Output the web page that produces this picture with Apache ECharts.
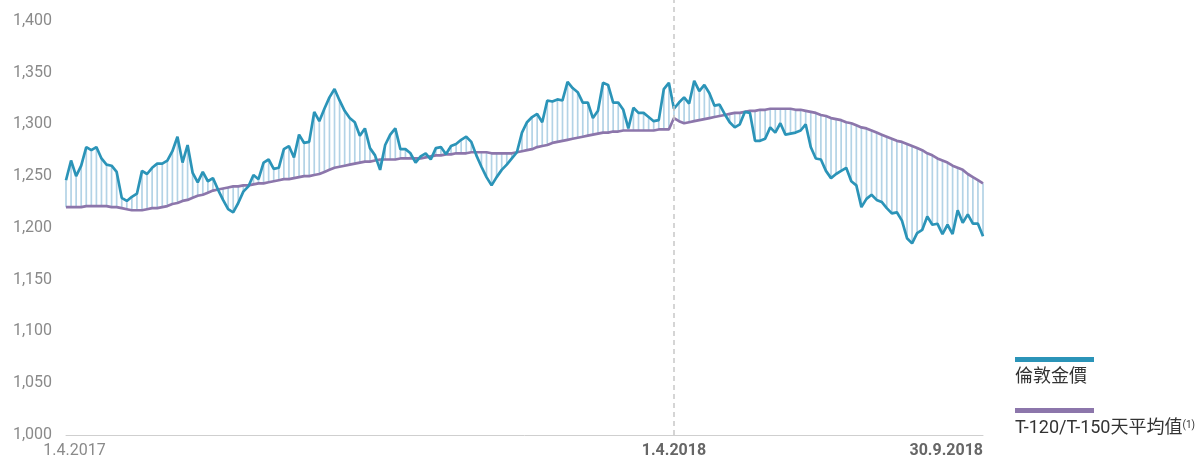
<!DOCTYPE html>
<html>
<head>
<meta charset="utf-8">
<script src="https://cdn.jsdelivr.net/npm/echarts@6/dist/echarts.min.js"></script>
<style>
  html, body { margin: 0; padding: 0; background: #fff; }
  #main { width: 1203px; height: 461px; }
</style>
</head>
<body>
<div id="main"></div>
<script>
var FONT = 'Roboto, "Noto Sans CJK TC", sans-serif';

// 倫敦金價 (one sample about every 3 days, 1.4.2017 - 30.9.2018)
var goldPrice = [
  1246, 1265, 1250, 1260, 1278, 1275, 1278, 1267, 1261, 1260,
  1254, 1229, 1226, 1230, 1233, 1255, 1252, 1258, 1262, 1262,
  1265, 1274, 1288, 1263, 1280, 1253, 1244, 1254, 1245, 1248,
  1237, 1227, 1218, 1215, 1224, 1235, 1240, 1251, 1247, 1263,
  1266, 1257, 1258, 1276, 1279, 1268, 1290, 1282, 1283, 1312,
  1303, 1315, 1326, 1334, 1323, 1313, 1306, 1302, 1289, 1296,
  1277, 1270, 1256, 1280, 1290, 1296, 1276, 1276, 1272, 1263,
  1269, 1272, 1266, 1277, 1278, 1271, 1279, 1281, 1285, 1288,
  1283, 1270, 1259, 1249, 1241, 1249, 1256, 1261, 1267, 1273,
  1292, 1302, 1307, 1310, 1302, 1323, 1322, 1324, 1323, 1341,
  1335, 1331, 1321, 1321, 1306, 1313, 1340, 1338, 1321, 1321,
  1314, 1296, 1316, 1311, 1311, 1307, 1303, 1304, 1334, 1340,
  1315, 1321, 1326, 1320, 1342, 1332, 1338, 1330, 1318, 1319,
  1310, 1302, 1297, 1300, 1312, 1311, 1284, 1284, 1286, 1297,
  1292, 1301, 1290, 1291, 1292, 1294, 1300, 1278, 1267, 1266,
  1255, 1248, 1252, 1255, 1258, 1245, 1241, 1220, 1228, 1232,
  1227, 1225, 1219, 1214, 1215, 1207, 1190, 1185, 1195, 1198,
  1211, 1203, 1204, 1194, 1203, 1194, 1217, 1205, 1213, 1204,
  1204, 1192
];

// T-120/T-150天平均值
var movingAvg = [
  1220, 1220, 1220, 1220, 1221, 1221, 1221, 1221, 1221, 1220,
  1220, 1219, 1218, 1217, 1217, 1217, 1218, 1219, 1219, 1220,
  1221, 1223, 1224, 1226, 1227, 1229, 1231, 1232, 1234, 1236,
  1237, 1238, 1239, 1240, 1240, 1241, 1241, 1242, 1243, 1243,
  1244, 1245, 1246, 1247, 1247, 1248, 1249, 1250, 1250, 1251,
  1252, 1254, 1256, 1258, 1259, 1260, 1261, 1262, 1263, 1264,
  1264, 1265, 1266, 1266, 1266, 1266, 1267, 1267, 1267, 1267,
  1267, 1268, 1269, 1270, 1270, 1271, 1271, 1272, 1272, 1272,
  1273, 1273, 1273, 1273, 1272, 1272, 1272, 1272, 1272, 1273,
  1274, 1275, 1276, 1278, 1279, 1280, 1282, 1283, 1284, 1285,
  1286, 1287, 1288, 1289, 1290, 1291, 1292, 1292, 1293, 1293,
  1294, 1294, 1294, 1294, 1294, 1294, 1294, 1295, 1295, 1295,
  1306, 1303, 1301, 1302, 1303, 1304, 1305, 1306, 1307, 1308,
  1309, 1310, 1311, 1311, 1312, 1313, 1313, 1314, 1314, 1315,
  1315, 1315, 1315, 1315, 1314, 1314, 1313, 1312, 1311, 1309,
  1308, 1306, 1305, 1304, 1302, 1301, 1299, 1297, 1296, 1294,
  1292, 1290, 1288, 1286, 1284, 1283, 1281, 1279, 1277, 1275,
  1272, 1270, 1267, 1265, 1263, 1260, 1258, 1256, 1252, 1249,
  1246, 1243
];

// tick labels on the date axis
var tickIndex = [0, 120, 181];
var tickLabels = ['1.4.2017', '1.4.2018', '30.9.2018'];

var seriesNames = ['倫敦金價', 'T-120/T-150天平均值'];
var GOLD = '#2b94b8';
var AVG = '#8c76ab';

var categories = goldPrice.map(function (v, i) { return String(i); });
var gaps = goldPrice.map(function (v, i) { return [i, v, movingAvg[i]]; });

var myChart = echarts.init(document.getElementById('main'));

option = {
  animation: false,
  textStyle: { fontFamily: FONT },
  grid: { left: 66, right: 220, top: 0, bottom: 26 },
  xAxis: {
    type: 'category',
    data: categories,
    boundaryGap: false,
    axisLine: { lineStyle: { color: '#cfcfcf', width: 1 } },
    axisTick: { show: false },
    splitLine: { show: false },
    axisLabel: {
      margin: 8,
      interval: function (i) { return tickIndex.indexOf(i) >= 0; },
      alignMaxLabel: 'right',
      formatter: function (v, i) {
        var k = tickIndex.indexOf(i);
        if (k < 0) return '';
        return (k === 0 ? '{a|' : '{b|') + tickLabels[k] + '}';
      },
      rich: {
        a: { fontSize: 16, color: '#8a8a8a', fontFamily: FONT, padding: [0, 0, 0, 17] },
        b: { fontSize: 16, color: '#666', fontWeight: 'bold', fontFamily: FONT }
      }
    }
  },
  yAxis: {
    type: 'value',
    min: 1000,
    max: 1420,
    interval: 50,
    axisLine: { show: false },
    axisTick: { show: false },
    splitLine: { show: false },
    axisLabel: {
      margin: 14,
      fontSize: 16,
      color: '#8a8a8a',
      fontFamily: FONT,
      showMaxLabel: false,
      formatter: function (v) { return v > 1400 ? '' : v.toLocaleString('en-US'); }
    }
  },
  series: [{
    type: 'custom',
    name: 'gap',
    silent: true,
    z: 1,
    data: gaps,
    encode: { x: 0, y: 1 },
    renderItem: function (params, api) {
      var a = api.coord([api.value(0), api.value(1)]);
      var b = api.coord([api.value(0), api.value(2)]);
      return {
        type: 'line',
        shape: { x1: a[0], y1: a[1], x2: b[0], y2: b[1] },
        style: { stroke: '#b3d3e6', lineWidth: 1.7 }
      };
    }
  }, {
    type: 'line',
    name: seriesNames[1],
    data: movingAvg,
    z: 2,
    symbol: 'none',
    lineStyle: { color: AVG, width: 2.7 }
  }, {
    type: 'line',
    name: seriesNames[0],
    data: goldPrice,
    z: 3,
    symbol: 'none',
    lineStyle: { color: GOLD, width: 2.7 },
    markLine: {
      silent: true,
      symbol: 'none',
      label: { show: false },
      lineStyle: { color: '#c8c8c8', type: [5, 4], width: 1.5 },
      data: [{ xAxis: 120 }]
    }
  }],
  graphic: [
    { type: 'rect', left: 1015, top: 357, shape: { width: 79, height: 5 }, style: { fill: GOLD } },
    { type: 'text', left: 1015, top: 369, style: { text: seriesNames[0], font: '18px ' + FONT, fill: '#333' } },
    { type: 'rect', left: 1015, top: 408, shape: { width: 79, height: 5 }, style: { fill: AVG } },
    { type: 'text', left: 1015, top: 420, style: {
        text: seriesNames[1] + '{s|(1)}',
        font: '18px ' + FONT,
        fill: '#333',
        rich: { s: { fontSize: 10, verticalAlign: 'top', fill: '#333', fontFamily: FONT } }
      } }
  ]
};

myChart.setOption(option);
</script>
</body>
</html>
